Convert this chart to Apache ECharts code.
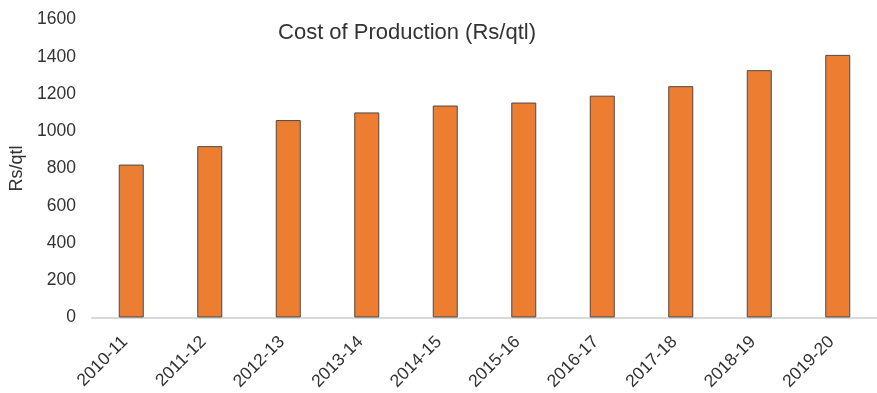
<!DOCTYPE html>
<html>
<head>
<meta charset="utf-8">
<script src="https://cdn.jsdelivr.net/npm/echarts@6/dist/echarts.min.js"></script>
<style>
  html, body { margin: 0; padding: 0; background: #fff; }
  #chart { width: 877px; height: 393px; }
</style>
</head>
<body>
<div id="chart"></div>
<script>
// Cost of production per quintal, by crop year
const years = ['2010-11', '2011-12', '2012-13', '2013-14', '2014-15',
               '2015-16', '2016-17', '2017-18', '2018-19', '2019-20'];
const costRsPerQtl = [821, 920, 1060, 1101, 1138, 1154, 1191, 1242, 1328, 1410];
const yTicks = { min: 0, max: 1600, step: 200 };

const FONT = '"Liberation Sans", Arial, sans-serif';
const TEXT = '#333333';

const chart = echarts.init(document.getElementById('chart'), null, { renderer: 'canvas' });
chart.setOption({
  animation: false,
  backgroundColor: '#ffffff',
  title: {
    text: 'Cost of Production (Rs/qtl)',
    left: 402,
    top: 17,
    textAlign: 'center',
    textStyle: { fontFamily: FONT, fontSize: 22, fontWeight: 'normal', color: TEXT }
  },
  grid: { left: 92, top: 19.5, width: 792, height: 303, containLabel: false },
  xAxis: {
    type: 'category',
    data: years,
    axisLine: { show: true, lineStyle: { color: '#d9d9d9', width: 2 } },
    axisTick: { show: false },
    axisLabel: {
      rotate: 45,
      interval: 0,
      margin: 28,
      verticalAlign: 'bottom',
      fontFamily: FONT,
      fontSize: 17.5,
      color: TEXT
    }
  },
  yAxis: {
    type: 'value',
    min: yTicks.min,
    max: yTicks.max,
    interval: yTicks.step,
    name: 'Rs/qtl',
    nameLocation: 'middle',
    nameRotate: 90,
    nameGap: 61,
    nameTextStyle: { fontFamily: FONT, fontSize: 18, color: TEXT },
    axisLine: { show: false },
    axisTick: { show: false },
    splitLine: { show: false },
    axisLabel: {
      margin: 16,
      fontFamily: FONT,
      fontSize: 17.5,
      color: TEXT,
      formatter: (v) => String(v)
    }
  },
  series: [{
    type: 'bar',
    data: costRsPerQtl,
    barWidth: 25,
    itemStyle: { color: '#ED7D31', borderColor: '#4a4a4a', borderWidth: 1 }
  }]
});
</script>
</body>
</html>
